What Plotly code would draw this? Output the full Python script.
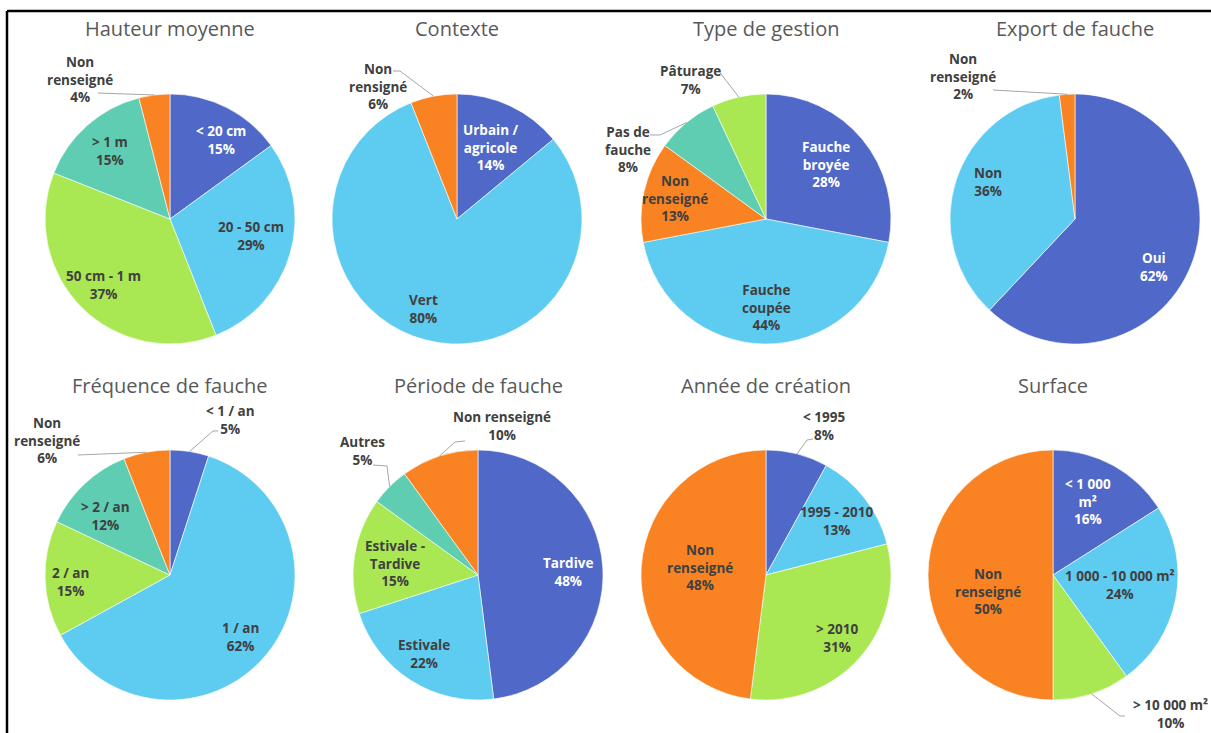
import math
import plotly.graph_objects as go

W, H = 1211, 733

# ---------------------------------------------------------------- data
hauteur_labels = ["< 20 cm", "20 - 50 cm", "50 cm - 1 m", "> 1 m", "Non renseigné"]
hauteur_values = [15, 29, 37, 15, 4]

contexte_labels = ["Urbain / agricole", "Vert", "Non rensigné"]
contexte_values = [14, 80, 6]

gestion_labels = ["Fauche broyée", "Fauche coupée", "Non renseigné", "Pas de fauche", "Pâturage"]
gestion_values = [28, 44, 13, 8, 7]

export_labels = ["Oui", "Non", "Non renseigné"]
export_values = [62, 36, 2]

frequence_labels = ["< 1 / an", "1 / an", "2 / an", "> 2 / an", "Non renseigné"]
frequence_values = [5, 62, 15, 12, 6]

periode_labels = ["Tardive", "Estivale", "Estivale - Tardive", "Autres", "Non renseigné"]
periode_values = [48, 22, 15, 5, 10]

annee_labels = ["< 1995", "1995 - 2010", "> 2010", "Non renseigné"]
annee_values = [8, 13, 31, 48]

surface_labels = ["< 1 000 m²", "1 000 - 10 000 m²", "> 10 000 m²", "Non renseigné"]
surface_values = [16, 24, 10, 50]

titles = ["Hauteur moyenne", "Contexte", "Type de gestion", "Export de fauche",
          "Fréquence de fauche", "Période de fauche", "Année de création", "Surface"]

# ---------------------------------------------------------------- style
DB, LB, GR, TE, OR = "#5068C8", "#5ECBF1", "#A9E853", "#5ECDB2", "#F98322"
DARK, LIGHT = "#404040", "#FFFFFF"
FONT = "Open Sans"

# how each label is broken over lines
wrap = {
    "Non renseigné": "Non<br>renseigné",
    "Non rensigné": "Non<br>rensigné",
    "Urbain / agricole": "Urbain /<br>agricole",
    "Fauche broyée": "Fauche<br>broyée",
    "Fauche coupée": "Fauche<br>coupée",
    "Pas de fauche": "Pas de<br>fauche",
    "Estivale - Tardive": "Estivale -<br>Tardive",
    "< 1 000 m²": "< 1 000<br>m²",
}

# label placement: ("in", radius fraction, angle shift, colour)
#                  ("out", dx, dy, leader points) offsets in px from pie centre
charts = [
    dict(labels=hauteur_labels, values=hauteur_values, c=(170, 219),
         colors=[DB, LB, GR, TE, OR],
         place=[("in", .75, 6, LIGHT), ("in", .66, -4, DARK), ("in", .75, 0, DARK),
                ("in", .73, 0, DARK), ("out", -90, -140, [(-72, -126)])]),
    dict(labels=contexte_labels, values=contexte_values, c=(457, 219),
         colors=[DB, LB, OR],
         place=[("in", .63, 0, LIGHT), ("in", .77, 6, DARK),
                ("out", -79, -132, [(-64, -148), (-57, -148)])]),
    dict(labels=gestion_labels, values=gestion_values, c=(766, 219),
         colors=[DB, LB, OR, TE, GR],
         place=[("in", .65, -3, LIGHT), ("in", .71, 0, DARK), ("in", .75, 0, DARK),
                ("out", -138, -70, [(-116, -84), (-106, -84)]),
                ("out", -76, -139, [(-48, -149)])]),
    dict(labels=export_labels, values=export_values, c=(1075, 219),
         colors=[DB, LB, OR],
         place=[("in", .74, 10, LIGHT), ("in", .76, 5, DARK),
                ("out", -112, -143, [(-82, -129)])]),
    dict(labels=frequence_labels, values=frequence_values, c=(170, 575),
         colors=[DB, LB, GR, TE, OR],
         place=[("out", 60, -155, [(48, -144), (43, -144)]),
                ("in", .75, 2, DARK), ("in", .80, -2, DARK), ("in", .70, -4, DARK),
                ("out", -123, -134, [(-92, -120)])]),
    dict(labels=periode_labels, values=periode_values, c=(478, 575),
         colors=[DB, LB, GR, TE, OR], single_line={"Non renseigné"},
         place=[("in", .72, 2, LIGHT), ("in", .77, 2, DARK), ("in", .67, -1, DARK),
                ("out", -116, -124, [(-105, -110), (-91, -109)]),
                ("out", 24, -149, [(-13, -134), (-23, -133)])]),
    dict(labels=annee_labels, values=annee_values, c=(766, 575),
         colors=[DB, LB, GR, OR],
         place=[("out", 58, -149, [(47, -136), (41, -135)]),
                ("in", .71, 0, DARK), ("in", .76, 0, DARK), ("in", .53, 3, DARK)]),
    dict(labels=surface_labels, values=surface_values, c=(1053, 575),
         colors=[DB, LB, GR, OR],
         place=[("in", .65, -3, LIGHT), ("in", .54, -2, DARK),
                ("out", 117, 139, [(72, 141), (67, 141)]),
                ("in", .54, -14, DARK)]),
]

R = 125
TITLE_Y = [29, 385]


def px(x, y):
    return x / W, 1 - y / H


fig = go.Figure()
annotations, shapes = [], []

for i, ch in enumerate(charts):
    cx, cy = ch["c"]
    fig.add_trace(go.Pie(
        labels=ch["labels"], values=ch["values"], sort=False,
        direction="clockwise", rotation=0,
        marker=dict(colors=ch["colors"], line=dict(color="white", width=0.6)),
        textinfo="none", hoverinfo="label+percent", showlegend=False,
        domain=dict(x=[(cx - R) / W, (cx + R) / W],
                    y=[1 - (cy + R) / H, 1 - (cy - R) / H]),
    ))

    # title
    tx, ty = px(cx, TITLE_Y[i // 4])
    annotations.append(dict(x=tx, y=ty, xref="paper", yref="paper", text=titles[i],
                            showarrow=False, xanchor="center", yanchor="middle",
                            font=dict(family=FONT, size=20, color="#595959")))

    total = sum(ch["values"])
    keep = ch.get("single_line", set())
    cum = 0
    for lab, val, pl in zip(ch["labels"], ch["values"], ch["place"]):
        mid = (cum + val / 2) / total * 360
        cum += val
        shown = lab if lab in keep else wrap.get(lab, lab)
        text = f"{shown}<br>{round(val / total * 100)}%"
        if pl[0] == "in":
            _, f, dth, col = pl
            a = math.radians(mid + dth)
            lx, ly = cx + f * R * math.sin(a), cy - f * R * math.cos(a)
        else:
            _, dx, dy, pts = pl
            col = DARK
            lx, ly = cx + dx, cy + dy
            a = math.radians(mid)
            ex, ey = cx + R * math.sin(a), cy - R * math.cos(a)
            path_pts = [(cx + qx, cy + qy) for qx, qy in pts] + [(ex, ey)]
            path = ""
            for k, (qx, qy) in enumerate(path_pts):
                fx, fy = px(qx, qy)
                path += ("M" if k == 0 else " L") + f" {fx:.5f},{fy:.5f}"
            shapes.append(dict(type="path", xref="paper", yref="paper", path=path,
                               line=dict(color="#A6A6A6", width=1)))
        ax_, ay_ = px(lx, ly)
        annotations.append(dict(x=ax_, y=ay_, xref="paper", yref="paper", text=text,
                                showarrow=False, xanchor="center", yanchor="middle",
                                align="center",
                                font=dict(family=FONT, size=13.5, color=col, weight="bold")))

# frame lines along the top and left edges
x0, y0 = px(7, 11)
shapes.append(dict(type="line", xref="paper", yref="paper", x0=x0, y0=y0, x1=1, y1=y0,
                   line=dict(color="black", width=2.5)))
shapes.append(dict(type="line", xref="paper", yref="paper", x0=x0, y0=y0, x1=x0, y1=0,
                   line=dict(color="black", width=2.5)))

fig.update_layout(
    width=W, height=H, margin=dict(l=0, r=0, t=0, b=0),
    paper_bgcolor="white", plot_bgcolor="white",
    annotations=annotations, shapes=shapes,
)

fig.write_html("out.html")
